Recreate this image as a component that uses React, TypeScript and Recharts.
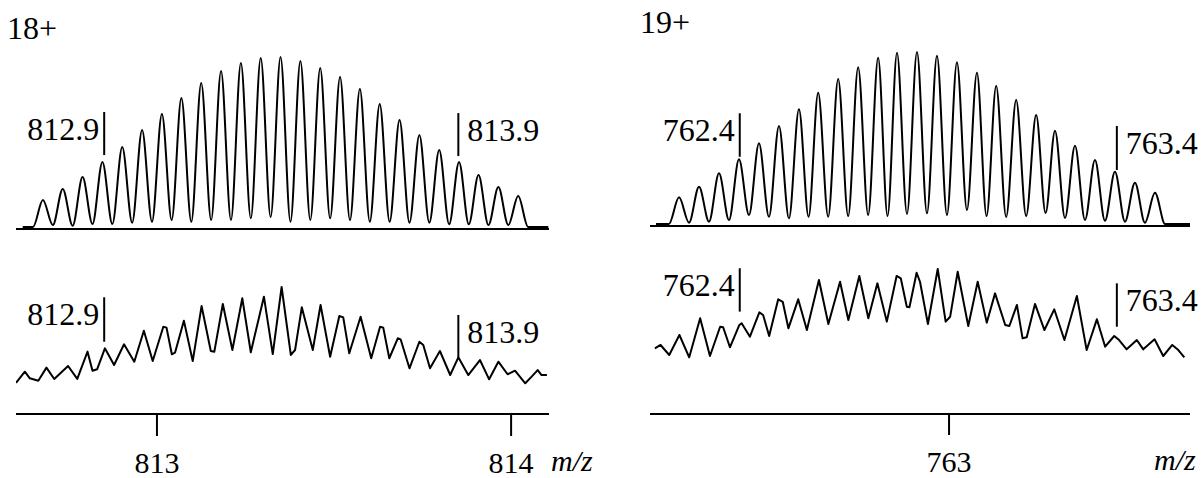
import React from 'react';
import { LineChart, Line, XAxis, YAxis, ReferenceLine } from 'recharts';

const SERIF = "'Liberation Serif', 'Times New Roman', Times, serif";

// ---------- 18+ charge state ----------
const charge18 = '18+';
const ticks18 = [813, 814];

// calculated isotope envelope (peak apexes, the minima between them, flat baseline ends)
const calcPeakMz18 = [
  812.678, 812.734, 812.79, 812.846, 812.902, 812.958, 813.014, 813.069, 813.125, 813.181,
  813.237, 813.293, 813.349, 813.405, 813.461, 813.517, 813.573, 813.629, 813.685, 813.741,
  813.797, 813.853, 813.908, 813.964, 814.02,
];
const calcPeakInt18 = [
  16.9, 23.3, 30.2, 39.0, 47.7, 57.6, 66.9, 76.2, 84.9, 91.9, 96.5, 99.4, 100, 97.7, 93.6,
  88.4, 81.4, 72.7, 63.4, 54.7, 45.9, 39.0, 31.4, 24.4, 19.2,
];
const calcValleyInt18 = [
  2.3, 1.9, 2.9, 2.9, 3.7, 4.2, 5.2, 4.2, 5.2, 5.2, 6.2, 7.0, 4.2, 5.2, 6.2, 5.2, 4.2, 4.2,
  3.7, 3.7, 2.7, 2.7, 2.3, 2.3,
];
const calcBaseMz18 = [812.621, 812.65, 814.048, 814.105];
const calcBaseInt18 = 1.2;

// measured spectrum
const obsMz18 = [
  812.602, 812.627, 812.641, 812.665, 812.688, 812.71, 812.749, 812.775, 812.804, 812.818,
  812.831, 812.853, 812.879, 812.907, 812.936, 812.963, 812.988, 813.018, 813.027, 813.042,
  813.051, 813.076, 813.101, 813.126, 813.152, 813.162, 813.186, 813.213, 813.241, 813.265,
  813.302, 813.327, 813.352, 813.378, 813.39, 813.409, 813.44, 813.462, 813.489, 813.515,
  813.526, 813.543, 813.575, 813.605, 813.63, 813.639, 813.656, 813.68, 813.688, 813.713,
  813.741, 813.752, 813.771, 813.799, 813.828, 813.851, 813.879, 813.912, 813.938, 813.964,
  813.99, 814.011, 814.04, 814.058, 814.075, 814.086, 814.101,
];
const obsInt18 = [
  24.6, 33.3, 28.1, 26.2, 36.5, 27.6, 37.8, 27.6, 49.1, 34.1, 35.2, 51.7, 38.6, 54.9, 41.2,
  65.6, 41.7, 68.7, 68.0, 47.0, 48.3, 73.5, 41.7, 85.0, 49.6, 49.1, 86.6, 50.4, 91.1, 48.6,
  92.4, 47.2, 100, 46.5, 50.4, 84.0, 50.4, 85.8, 45.1, 77.2, 76.1, 47.8, 76.6, 43.9, 68.7,
  68.0, 43.9, 59.6, 58.8, 36.0, 56.9, 54.3, 36.0, 49.6, 30.7, 44.6, 30.7, 42.5, 27.3, 41.2,
  31.3, 34.1, 24.2, 29.4, 34.6, 30.7, 30.7,
];
const markerMz18 = [812.851, 813.851];

// ---------- 19+ charge state ----------
const charge19 = '19+';
const ticks19 = [763];

const calcPeakMz19 = [
  762.284, 762.337, 762.39, 762.443, 762.496, 762.549, 762.602, 762.653, 762.706, 762.759,
  762.812, 762.862, 762.915, 762.968, 763.021, 763.074, 763.125, 763.178, 763.231, 763.281,
  763.334, 763.387, 763.44, 763.493, 763.546,
];
const calcPeakInt19 = [
  16.5, 22.6, 30.3, 38.3, 47.5, 57.5, 67.1, 76.6, 84.5, 91.2, 96.7, 99.6, 100, 97.9, 94.1,
  88.1, 80.5, 72.4, 63.8, 54.8, 46.1, 37.9, 31.2, 24.9, 19.1,
];
const calcValleyInt19 = [
  1.9, 2.5, 3.4, 6.3, 5.3, 4.4, 5.3, 5.3, 5.7, 6.3, 5.7, 6.9, 7.3, 6.3, 9.2, 5.7, 5.2, 5.7,
  7.5, 4.6, 3.4, 3.0, 2.5, 1.9,
];
const calcBaseMz19 = [762.223, 762.257, 763.573, 763.639];
const calcBaseInt19 = 1.15;

const obsMz19 = [
  762.22, 762.235, 762.258, 762.285, 762.311, 762.34, 762.366, 762.393, 762.401, 762.419,
  762.444, 762.45, 762.472, 762.497, 762.507, 762.523, 762.547, 762.559, 762.574, 762.6,
  762.623, 762.655, 762.68, 762.711, 762.733, 762.762, 762.786, 762.81, 762.835, 762.861,
  762.872, 762.888, 762.895, 762.914, 762.923, 762.944, 762.97, 762.991, 763.003, 763.023,
  763.051, 763.076, 763.1, 763.122, 763.149, 763.16, 763.18, 763.195, 763.206, 763.228,
  763.253, 763.279, 763.306, 763.339, 763.365, 763.392, 763.414, 763.438, 763.451, 763.471,
  763.498, 763.515, 763.545, 763.568, 763.592, 763.608, 763.624,
];
const obsInt19 = [
  45.3, 47.6, 40.7, 54.5, 39.1, 66.0, 40.0, 60.2, 59.8, 46.0, 61.4, 62.6, 53.3, 70.1, 68.3,
  53.8, 79.1, 77.4, 59.1, 79.1, 57.9, 92.4, 62.1, 91.2, 64.8, 95.2, 66.0, 90.1, 63.7, 95.2,
  93.6, 74.0, 73.6, 97.4, 91.2, 62.1, 100, 63.7, 67.1, 98.1, 60.7, 91.2, 63.0, 83.2, 61.4,
  60.7, 75.2, 52.2, 52.9, 75.9, 57.9, 72.2, 51.0, 81.4, 44.1, 65.3, 46.4, 53.8, 51.0, 44.6,
  51.0, 44.6, 51.5, 40.0, 47.6, 44.1, 39.1,
];
const markerMz19 = [762.445, 763.445];

type Pt = { mz: number; v: number };

// peak apex / minimum / apex ... with flat baseline stretches at both ends
function buildEnvelope(peakMz: number[], peakInt: number[], valleyInt: number[], baseMz: number[], baseInt: number): Pt[] {
  const pts: Pt[] = [
    { mz: baseMz[0], v: baseInt },
    { mz: baseMz[1], v: baseInt },
  ];
  peakMz.forEach((mz, k) => {
    pts.push({ mz, v: peakInt[k] });
    if (k < peakMz.length - 1 && k < valleyInt.length) {
      pts.push({ mz: (mz + peakMz[k + 1]) / 2, v: valleyInt[k] });
    }
  });
  pts.push({ mz: baseMz[2], v: baseInt }, { mz: baseMz[3], v: baseInt });
  return pts;
}

function buildTrace(mz: number[], int: number[]): Pt[] {
  const n = Math.min(mz.length, int.length);
  const pts: Pt[] = [];
  for (let i = 0; i < n; i++) pts.push({ mz: mz[i], v: int[i] });
  return pts;
}

type Panel = {
  left: number;
  top: number;
  width: number;
  height: number;
  margin: { top: number; right: number; bottom: number; left: number };
  axisHeight: number;
  domain: [number, number];
  ticks: number[];
  tickSize: number;
  tickMargin: number;
  showLabels: boolean;
  curve: 'monotoneX' | 'linear';
  data: Pt[];
  markers: number[];
  spans: [number, number][];
};

const panels: Panel[] = [
  {
    left: 0, top: 0, width: 560, height: 269,
    margin: { top: 57, right: 11, bottom: 0, left: 16 },
    axisHeight: 40, domain: [812.602, 814.107], ticks: ticks18, tickSize: 18, tickMargin: 2,
    showLabels: false, curve: 'monotoneX',
    data: buildEnvelope(calcPeakMz18, calcPeakInt18, calcValleyInt18, calcBaseMz18, calcBaseInt18),
    markers: markerMz18, spans: [[43, 68], [42.4, 67.4]],
  },
  {
    left: 0, top: 230, width: 560, height: 248,
    margin: { top: 57, right: 11, bottom: 0, left: 16 },
    axisHeight: 64, domain: [812.602, 814.107], ticks: ticks18, tickSize: 22, tickMargin: 16,
    showLabels: true, curve: 'linear',
    data: buildTrace(obsMz18, obsInt18),
    markers: markerMz18, spans: [[56.9, 91.9], [44.6, 78.0]],
  },
  {
    left: 600, top: 0, width: 602, height: 266,
    margin: { top: 52, right: 12, bottom: 0, left: 50 },
    axisHeight: 40, domain: [762.207, 763.639], ticks: ticks19, tickSize: 19, tickMargin: 2,
    showLabels: false, curve: 'monotoneX',
    data: buildEnvelope(calcPeakMz19, calcPeakInt19, calcValleyInt19, calcBaseMz19, calcBaseInt19),
    markers: markerMz19, spans: [[39.8, 64.8], [32.2, 57.5]],
  },
  {
    left: 600, top: 230, width: 602, height: 248,
    margin: { top: 39, right: 12, bottom: 0, left: 50 },
    axisHeight: 64, domain: [762.207, 763.639], ticks: ticks19, tickSize: 21, tickMargin: 16,
    showLabels: true, curve: 'linear',
    data: buildTrace(obsMz19, obsInt19),
    markers: markerMz19, spans: [[70.6, 100.5], [60.2, 90.1]],
  },
];

const markerLabel = (text: string, side: 'left' | 'right') => (props: any) => {
  const vb = props && props.viewBox ? props.viewBox : { x: 0, y: 0 };
  const x = side === 'left' ? vb.x - 5 : vb.x + 9;
  return (
    <text
      x={x}
      y={vb.y + 28}
      textAnchor={side === 'left' ? 'end' : 'start'}
      fontFamily={SERIF}
      fontSize={32}
      fill="#000"
    >
      {text}
    </text>
  );
};

function SpectrumPanel({ p }: { p: Panel }) {
  return (
    <div style={{ position: 'absolute', left: p.left, top: p.top }}>
      <LineChart width={p.width} height={p.height} data={p.data} margin={p.margin}>
        <XAxis
          dataKey="mz"
          type="number"
          domain={p.domain}
          allowDataOverflow
          ticks={p.ticks}
          interval={0}
          height={p.axisHeight}
          tickSize={p.tickSize}
          tickMargin={p.tickMargin}
          axisLine={{ stroke: '#000', strokeWidth: 2 }}
          tickLine={{ stroke: '#000', strokeWidth: 2 }}
          tick={p.showLabels ? { fill: '#000', fontSize: 30, fontFamily: SERIF } : false}
        />
        <YAxis hide type="number" domain={[0, 100]} />
        <Line
          type={p.curve}
          dataKey="v"
          stroke="#000"
          strokeWidth={2}
          strokeLinejoin="round"
          dot={false}
          activeDot={false}
          isAnimationActive={false}
        />
        {p.markers.map((mz, i) => (
          <ReferenceLine
            key={i}
            segment={[
              { x: mz, y: p.spans[i][0] },
              { x: mz, y: p.spans[i][1] },
            ]}
            stroke="#000"
            strokeWidth={2}
            ifOverflow="visible"
            label={markerLabel(mz.toFixed(1), i === 0 ? 'left' : 'right')}
          />
        ))}
      </LineChart>
    </div>
  );
}

export default function App() {
  return (
    <div
      style={{
        position: 'absolute',
        left: 0,
        top: 0,
        width: 1202,
        height: 478,
        background: '#fff',
        overflow: 'hidden',
      }}
    >
      {panels.map((p, i) => (
        <SpectrumPanel key={i} p={p} />
      ))}
      <svg
        width={1202}
        height={478}
        style={{ position: 'absolute', left: 0, top: 0, pointerEvents: 'none' }}
      >
        <text x={7} y={39} fontFamily={SERIF} fontSize={32} fill="#000">{charge18}</text>
        <text x={640} y={33} fontFamily={SERIF} fontSize={32} fill="#000">{charge19}</text>
        <text x={551} y={471} fontFamily={SERIF} fontSize={30} fontStyle="italic" fill="#000">m/z</text>
        <text x={1154} y={470} fontFamily={SERIF} fontSize={30} fontStyle="italic" fill="#000">m/z</text>
      </svg>
    </div>
  );
}
